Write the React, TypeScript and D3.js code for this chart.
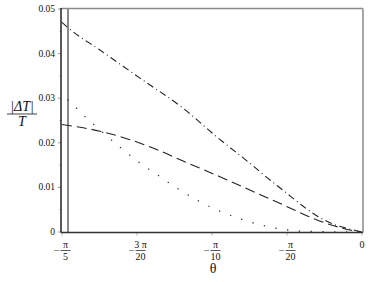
import React from 'react';
import * as d3 from 'd3';

const W = 368;
const H = 282;

// theta values are expressed as multiples of pi
const dashDotTheta = [-0.2, -0.196, -0.1747, -0.148, -0.1187, -0.0967, -0.074, -0.0633, -0.052, -0.0409, -0.03, -0.0187, -0.0075, 0];
const dashDotVal = [0.047, 0.0458, 0.0408, 0.0345, 0.0276, 0.0213, 0.0152, 0.0122, 0.0092, 0.0062, 0.0036, 0.0017, 0.0006, 0];

const dashedTheta = [-0.2, -0.1747, -0.1547, -0.1347, -0.1193, -0.0947, -0.074, -0.052, -0.03, -0.0147, -0.0073, 0];
const dashedVal = [0.0241, 0.0226, 0.0207, 0.0182, 0.0159, 0.0124, 0.0093, 0.006, 0.0027, 0.001, 0.0004, 0];

const dottedTheta = [-0.1962, -0.1907, -0.1851, -0.1791, -0.1613, -0.1485, -0.1355, -0.1222, -0.1087, -0.0942, -0.0791, -0.0638, -0.048, -0.0327, -0.0167, 0];
const dottedVal = [0.0297, 0.0279, 0.026, 0.0242, 0.019, 0.0156, 0.0126, 0.0096, 0.0069, 0.0046, 0.0027, 0.0013, 0.0004, 0.0001, 0.00003, 0];

const markerTheta = -0.196;

const yTicks = [0, 0.01, 0.02, 0.03, 0.04, 0.05];
const yTickLabels = ['0', '0.01', '0.02', '0.03', '0.04', '0.05'];
const yMinorTicks = [0.005, 0.015, 0.025, 0.035, 0.045];

const xTicks = [-0.2, -0.15, -0.1, -0.05, 0];
const xTickNum = ['π', '3 π', 'π', 'π', ''];
const xTickDen = ['5', '20', '10', '20', ''];

const FONT = '"Liberation Serif", "Times New Roman", serif';

export default function App() {
  const x = d3.scaleLinear().domain([-0.2 * Math.PI, 0]).range([62, 362]);
  const y = d3.scaleLinear().domain([0, 0.05]).range([232, 9]);
  const line = d3
    .line<[number, number]>()
    .x((d) => x(d[0] * Math.PI))
    .y((d) => y(d[1]))
    .curve(d3.curveMonotoneX);

  const zip = (a: number[], b: number[]) => a.map((t, i) => [t, b[i]] as [number, number]);

  const left = 61;
  const right = 363;
  const top = 8.5;
  const bottom = 232.5;
  const ts = { fontFamily: FONT };

  return (
    <svg width={W} height={H} style={{ position: 'absolute', left: 0, top: 0, background: '#fff' }}>
      <rect x={0} y={0} width={W} height={H} fill="#fff" />
      {/* frame */}
      <line x1={left} x2={right} y1={top} y2={top} stroke="#8a8a8a" strokeWidth={1.5} />
      <line x1={right} x2={right} y1={top} y2={bottom} stroke="#8a8a8a" strokeWidth={1.5} />

      {/* y ticks */}
      {yTicks.map((t, i) => (
        <g key={'y' + i}>
          <line x1={left - 3} x2={left} y1={y(t)} y2={y(t)} stroke="#9a9a9a" strokeWidth={1} />
          <text x={55} y={y(t) + 3} fontSize={9.5} textAnchor="end" fill="#111" style={ts}>
            {yTickLabels[i]}
          </text>
        </g>
      ))}
      {yMinorTicks.map((t, i) => (
        <line key={'ym' + i} x1={left - 1.5} x2={left} y1={y(t)} y2={y(t)} stroke="#b0b0b0" strokeWidth={1} />
      ))}

      {/* x ticks */}
      {xTicks.map((t, i) => {
        const px = x(t * Math.PI);
        return (
          <g key={'x' + i}>
            <line x1={px} x2={px} y1={bottom} y2={bottom + 3} stroke="#b0b0b0" strokeWidth={1} />
            {xTickNum[i] === '' ? (
              <text x={px} y={247.5} fontSize={10} textAnchor="middle" fill="#111" style={ts}>
                0
              </text>
            ) : (
              <g>
                <text x={px + 3.5} y={247.5} fontSize={10} textAnchor="middle" fill="#111" style={ts}>
                  {xTickNum[i]}
                </text>
                <line x1={px - 1.5} x2={px + 8.5} y1={250.5} y2={250.5} stroke="#111" strokeWidth={0.7} />
                <text x={px + 3.5} y={260} fontSize={10} textAnchor="middle" fill="#111" style={ts}>
                  {xTickDen[i]}
                </text>
                <text x={px - 5.5} y={254} fontSize={10} textAnchor="middle" fill="#111" style={ts}>
                  −
                </text>
              </g>
            )}
          </g>
        );
      })}

      {/* vertical marker */}
      <line
        x1={x(markerTheta * Math.PI)}
        x2={x(markerTheta * Math.PI)}
        y1={top}
        y2={bottom}
        stroke="#8a8a8a"
        strokeWidth={2}
      />

      {/* curves */}
      <path d={line(zip(dashDotTheta, dashDotVal)) || ''} fill="none" stroke="#222" strokeWidth={1.1} strokeDasharray="7 3.5 1 3.5" />
      <path d={line(zip(dashedTheta, dashedVal)) || ''} fill="none" stroke="#222" strokeWidth={1.1} strokeDasharray="10 5" />
      <path d={line(zip(dottedTheta, dottedVal)) || ''} fill="none" stroke="#333" strokeWidth={1.3} strokeDasharray="1.3 10.5" />

      {/* axes */}
      <line x1={left} x2={left} y1={top - 0.5} y2={bottom} stroke="#222" strokeWidth={1.5} />
      <line x1={left} x2={right} y1={bottom} y2={bottom} stroke="#333" strokeWidth={1.5} />

      {/* axis titles */}
      <text x={22} y={111} fontSize={14} textAnchor="middle" fontStyle="italic" fill="#111" style={ts}>
        |ΔT|
      </text>
      <line x1={7} x2={37} y1={114} y2={114} stroke="#111" strokeWidth={0.8} />
      <text x={22} y={126} fontSize={14} textAnchor="middle" fontStyle="italic" fill="#111" style={ts}>
        T
      </text>
      <text x={213} y={273} fontSize={14} textAnchor="middle" fill="#111" style={ts}>
        θ
      </text>
    </svg>
  );
}
